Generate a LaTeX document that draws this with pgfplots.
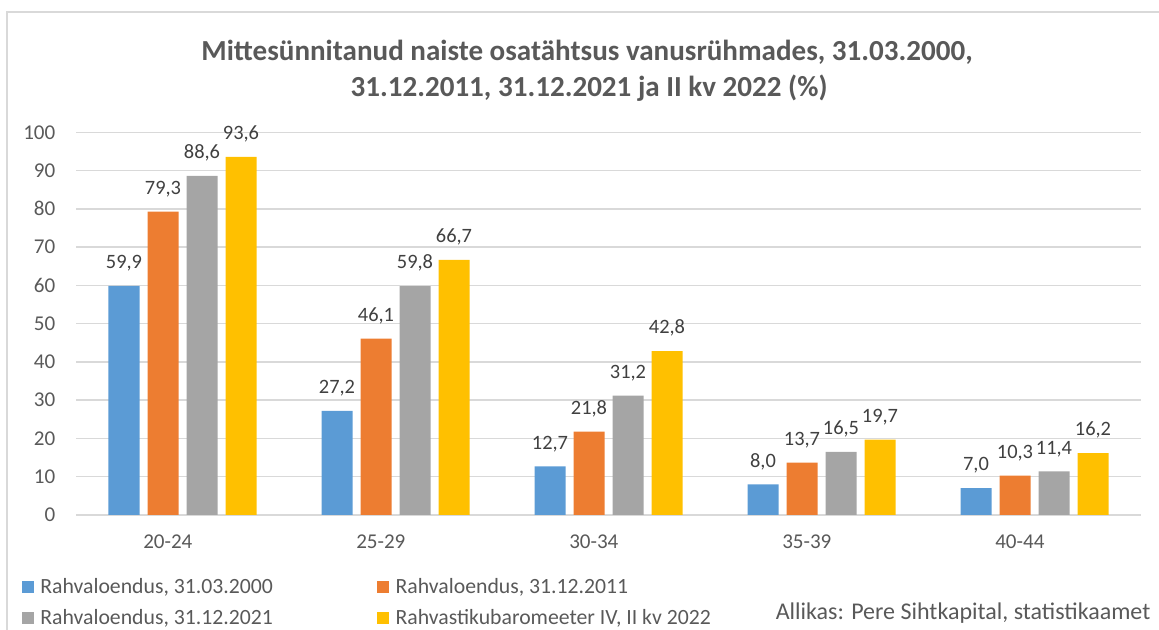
\documentclass[border=0pt]{standalone}
\usepackage{fontspec}
\setmainfont{Carlito}
\usepackage{pgfplots}
\pgfplotsset{compat=1.18}

\definecolor{cBlue}{HTML}{5B9BD5}
\definecolor{cOrange}{HTML}{ED7D31}
\definecolor{cGrey}{HTML}{A5A5A5}
\definecolor{cYellow}{HTML}{FFC000}
\definecolor{txt}{HTML}{595959}
\definecolor{lbl}{HTML}{404040}
\definecolor{cGrid}{HTML}{D9D9D9}

\begin{document}
\begin{tikzpicture}[x=0.75pt, y=0.75pt]
% page frame in px (1159 x 630)
\path[use as bounding box] (0,0) rectangle (1159,630);
\draw[cGrid, line width=1.2pt] (7,0) -- (7,618) -- (1159,618);

\node[text=txt, font=\fontsize{21.8}{26}\selectfont\bfseries] at (587,578)
  {Mittesünnitanud naiste osatähtsus vanusrühmades, 31.03.2000,};
\node[text=txt, font=\fontsize{21.8}{26}\selectfont\bfseries] at (589,542)
  {31.12.2011, 31.12.2021 ja II kv 2022 (\%)};

\begin{axis}[
  at={(57pt,86.25pt)}, anchor=south west,
  scale only axis,
  width=798.75pt, height=287pt,
  ybar=6pt, bar width=23.25pt,
  xmin=-0.5, xmax=4.5,
  ymin=0, ymax=100,
  ytick={0,10,...,100},
  xtick={0,1,2,3,4},
  xticklabels={20-24,25-29,30-34,35-39,40-44},
  axis line style={draw=none},
  tick style={draw=none},
  ymajorgrids,
  grid style={cGrid, line width=1.1pt},
  /pgf/number format/assume math mode=true,
  ticklabel style={font=\fontsize{15.8}{18}\selectfont, text=txt},
  xticklabel style={xshift=-11pt, yshift=-7pt},
  yticklabel style={xshift=-12pt},
  nodes near coords,
  nodes near coords style={font=\fontsize{15.3}{18}\selectfont, text=lbl, yshift=7.5pt,
    /pgf/number format/.cd, fixed, fixed zerofill, precision=1, use comma},
  legend columns=2,
  legend cell align=left,
  legend image code/.code={\fill[#1] (0pt,-4.5pt) rectangle (9pt,4.5pt); \path (12pt,0pt);},
  legend style={draw=none, fill=none, at={(-0.055,-0.15)}, anchor=north west,
    font=\fontsize{16.3}{19}\selectfont, text=txt,
    /tikz/every even column/.append style={column sep=76pt},
    row sep=6.5pt},
]
\addplot[fill=cBlue, draw=none] coordinates {(0,59.9) (1,27.2) (2,12.7) (3,8.0) (4,7.0)};
\addplot[fill=cOrange, draw=none] coordinates {(0,79.3) (1,46.1) (2,21.8) (3,13.7) (4,10.3)};
\addplot[fill=cGrey, draw=none] coordinates {(0,88.6) (1,59.8) (2,31.2) (3,16.5) (4,11.4)};
\addplot[fill=cYellow, draw=none] coordinates {(0,93.6) (1,66.7) (2,42.8) (3,19.7) (4,16.2)};
\legend{{Rahvaloendus, 31.03.2000}, {Rahvaloendus, 31.12.2011},
  {Rahvaloendus, 31.12.2021}, {Rahvastikubaromeeter IV, II kv 2022}}
\end{axis}

\node[anchor=east, text=txt, font=\fontsize{18}{21}\selectfont] at (1155,17)
  {Allikas: Pere Sihtkapital, statistikaamet};
\end{tikzpicture}
\end{document}
